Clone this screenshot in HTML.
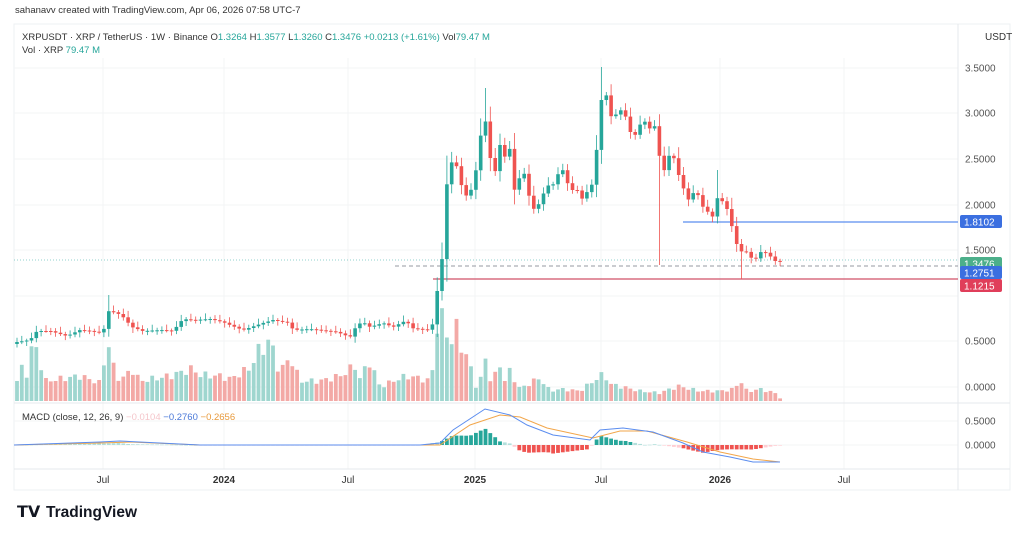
<!DOCTYPE html>
<html><head><meta charset="utf-8"><style>
body{margin:0;background:#fff;width:1024px;height:542px;overflow:hidden;font-family:"Liberation Sans",sans-serif}
svg{position:absolute;left:0;top:0}
</style></head><body>
<svg id="s" width="1024" height="542" xmlns="http://www.w3.org/2000/svg" font-family="Liberation Sans, sans-serif"></svg>
<script>
const S=document.getElementById('s');let h='';
const G='#26a69a',R='#ef5350',GV='#9fd6cf',RV='#f3a9a6';
// frame & grid
h+='<rect x="14" y="24" width="996" height="466" fill="none" stroke="#eef0f3"/>';
[68,113,159,205,250,296,341,387].forEach(y=>h+=`<line x1="14" x2="958" y1="${y}" y2="${y}" stroke="#f3f4f6"/>`);
[421,445].forEach(y=>h+=`<line x1="14" x2="958" y1="${y}" y2="${y}" stroke="#f3f4f6"/>`);
[103,224,348,475,601,720,844].forEach(x=>h+=`<line x1="${x}" x2="${x}" y1="58" y2="469" stroke="#f3f4f6"/>`);
h+='<line x1="958" x2="958" y1="24" y2="490" stroke="#e6e8ec"/>';
h+='<line x1="14" x2="1010" y1="403" y2="403" stroke="#e6e8ec"/>';
h+='<line x1="14" x2="1010" y1="469" y2="469" stroke="#e6e8ec"/>';
function interp(k,x){if(x<=k[0][0])return k[0][1];for(let i=1;i<k.length;i++){if(x<=k[i][0]){const a=k[i-1],b=k[i];return a[1]+(b[1]-a[1])*(x-a[0])/(b[0]-a[0]);}}return k[k.length-1][1];}
const P=[[17,342],[30,340],[37,331],[50,331],[67,336],[80,330],[90,331],[103,333],[108,311],[117,313],[123,317],[132,327],[143,331],[163,330],[173,331],[183,319],[193,320],[210,319],[223,322],[230,325],[243,330],[263,323],[273,320],[290,323],[293,330],[310,329],[337,332],[350,337],[357,325],[363,322],[370,327],[383,323],[393,327],[407,320],[410,328],[430,330],[433,323],[438,285],[443,253],[447,182],[453,157],[458,170],[462,188],[467,197],[472,188],[477,165],[482,125],[487,120],[490,157],[495,172],[500,145],[505,157],[508,127],[513,193],[518,182],[523,168],[528,193],[535,212],[542,197],[547,185],[552,187],[557,175],[563,170],[570,190],[577,190],[583,200],[588,190],[593,183],[598,137],[603,83],[608,102],[613,125],[618,107],[623,113],[628,120],[632,140],[637,132],[642,120],[647,123],[652,133],[655,125],[660,160],[665,172],[670,152],[675,160],[678,173],[683,187],[688,200],[693,193],[698,195],[703,207],[708,212],[713,217],[717,198],[725,203],[730,218],[735,240],[740,252],[745,250],[750,257],[755,260],[760,252],[768,253],[773,260],[778,262],[783,261]];
const V=[[17,20],[22,33],[27,27],[32,53],[37,52],[45,20],[60,22],[80,25],[100,18],[108,60],[113,35],[120,20],[132,32],[140,20],[170,25],[185,30],[193,32],[200,26],[220,25],[230,22],[250,33],[260,53],[265,53],[270,63],[275,43],[280,28],[290,45],[300,20],[320,20],[340,25],[355,35],[360,23],[370,40],[380,14],[400,23],[410,25],[430,20],[433,33],[438,85],[443,80],[448,65],[453,58],[458,78],[463,45],[468,45],[475,15],[480,18],[485,45],[490,22],[495,25],[500,37],[505,20],[510,30],[520,12],[530,18],[540,23],[550,10],[560,12],[580,10],[600,25],[605,26],[610,17],[640,10],[660,8],[670,12],[680,15],[690,12],[700,10],[720,10],[735,12],[740,23],[745,11],[750,10],[760,12],[775,8],[780,3]];
const M=[[14,445],[100,442],[120,441],[200,445],[300,445],[420,445],[440,443],[453,430],[485,409],[510,415],[527,425],[553,435],[590,440],[600,430],[623,428],[653,432],[683,443],[703,452],[730,457],[753,462],[780,462]];
const Sg=[[14,445],[100,443],[130,442],[200,445],[300,445],[440,445],[470,425],[500,415],[520,417],[547,428],[593,438],[620,431],[647,431],[687,442],[720,452],[753,459],[780,462]];
let vol='',cdl='',hist='';
let prev=interp(P,17)+2;
for(let i=0;i<=159;i++){const x=17+i*4.83;if(x>784)break;
 const c=interp(P,x);const o=prev;prev=c;const up=c<o;const col=up?G:R;
 const t=Math.min(o,c),b=Math.max(o,c);const body=Math.max(1,b-t);
 const j=(Math.sin(i*2.3)+1)*0.5;const wt=t-1.5-body*0.35-j*4,wb=b+1.5+body*0.25+(1-j)*3;
 let lw=wb; if(Math.abs(x-660)<2.5) lw=265; if(Math.abs(x-740)<2.5) lw=279;
 let hw=wt; if(Math.abs(x-603)<2.5) hw=67; if(Math.abs(x-487)<2.5) hw=88;if(Math.abs(x-108)<2.5) hw=295;if(Math.abs(x-717)<2.5) hw=170;
 cdl+=`<line x1="${x.toFixed(1)}" x2="${x.toFixed(1)}" y1="${hw.toFixed(1)}" y2="${lw.toFixed(1)}" stroke="${col}" stroke-width="0.8"/><rect x="${(x-1.8).toFixed(1)}" y="${t.toFixed(1)}" width="3.6" height="${body.toFixed(1)}" fill="${col}"/>`;
 const vh=interp(V,x)*(0.85+0.3*j);
 vol+=`<rect x="${(x-1.9).toFixed(1)}" y="${(401-vh).toFixed(1)}" width="3.8" height="${vh.toFixed(1)}" fill="${up?GV:RV}"/>`;
 const d=(interp(Sg,x)-interp(M,x))*1.5;
 const hc=d>0?(d>3?'#26a69a':'#b2dfdb'):(d<-3?'#ef5350':'#ffcdd2');
 hist+=`<rect x="${(x-1.9).toFixed(1)}" y="${(d>0?445-d:445).toFixed(1)}" width="3.8" height="${Math.max(0.6,Math.abs(d)).toFixed(1)}" fill="${hc}"/>`;
}
h+=vol;
h+='<line x1="395" x2="958" y1="266" y2="266" stroke="#9598a1" stroke-dasharray="4,3"/>';
h+='<line x1="14" x2="958" y1="260" y2="260" stroke="#26a69a" stroke-width="0.6" stroke-dasharray="1,2"/>';
h+='<line x1="683" x2="958" y1="222" y2="222" stroke="#5b8def" stroke-width="1.2"/>';
h+='<line x1="433" x2="958" y1="279" y2="279" stroke="#d05068" stroke-width="1.2"/>';
h+=cdl;h+=hist;
const pl=k=>k.map(p=>p.join(',')).join(' ');
h+=`<polyline points="${pl(Sg)}" fill="none" stroke="#f2a64a" stroke-width="1"/>`;
h+=`<polyline points="${pl(M)}" fill="none" stroke="#5b8def" stroke-width="1"/>`;
// axis labels
[[68,'3.5000'],[113,'3.0000'],[159,'2.5000'],[205,'2.0000'],[250,'1.5000'],[341,'0.5000'],[387,'0.0000'],[421,'0.5000'],[445,'0.0000']].forEach(a=>h+=`<text x="965" y="${a[0]+3.5}" font-size="10" fill="#555">${a[1]}</text>`);
[[222,'1.8102','#3b6fe0'],[264,'1.3476','#4caf8a'],[273,'1.2751','#3b6fe0'],[286,'1.1215','#e03e5a']].forEach(a=>h+=`<rect x="960" y="${a[0]-7}" width="42" height="13" rx="2" fill="${a[2]}"/><text x="964" y="${a[0]+3.5}" font-size="10" fill="#fff">${a[1]}</text>`);
h+='<text x="985" y="40" font-size="10" fill="#333">USDT</text>';
[[103,'Jul',0],[224,'2024',1],[348,'Jul',0],[475,'2025',1],[601,'Jul',0],[720,'2026',1],[844,'Jul',0]].forEach(a=>h+=`<text x="${a[0]}" y="483" font-size="10" text-anchor="middle" fill="#333" font-weight="${a[2]?'bold':'normal'}">${a[1]}</text>`);
h+='<text x="15" y="13" font-size="9.5" fill="#333">sahanavv created with TradingView.com, Apr 06, 2026 07:58 UTC-7</text>';
h+='<text x="22" y="40" font-size="9.5" fill="#333">XRPUSDT · XRP / TetherUS · 1W · Binance  O<tspan fill="#26a69a">1.3264</tspan>  H<tspan fill="#26a69a">1.3577</tspan>  L<tspan fill="#26a69a">1.3260</tspan>  C<tspan fill="#26a69a">1.3476</tspan>  <tspan fill="#26a69a">+0.0213 (+1.61%)</tspan>  Vol<tspan fill="#26a69a">79.47 M</tspan></text>';
h+='<text x="22" y="53" font-size="9.5" fill="#333">Vol · XRP  <tspan fill="#26a69a">79.47 M</tspan></text>';
h+='<text x="22" y="420" font-size="9.5" fill="#333">MACD (close, 12, 26, 9)  <tspan fill="#f5c6cb">−0.0104</tspan>  <tspan fill="#4a78d8">−0.2760</tspan>  <tspan fill="#e89a3c">−0.2656</tspan></text>';
h+='<text x="17" y="517" font-size="16" font-weight="bold" fill="#131722">𝗧𝗩</text>';
h+='<text x="46" y="517" font-size="15.5" font-weight="bold" fill="#131722">TradingView</text>';
S.innerHTML=h;
</script>
</body></html>
